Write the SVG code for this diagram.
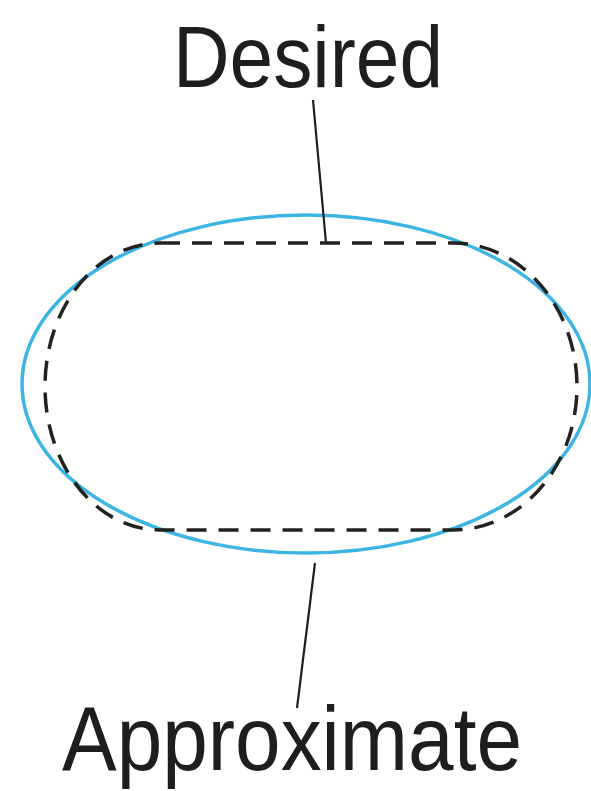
<svg xmlns="http://www.w3.org/2000/svg" width="591" height="791" viewBox="0 0 591 791">
<style>
.lbl{font-family:"Liberation Sans","DejaVu Sans",sans-serif;fill:#1e1e1e;}
.lead{stroke:#1e1e1e;stroke-width:2.2;fill:none;}
</style>
<rect width="591" height="791" fill="#fff"/>
<g id="approximate-shape">
<ellipse cx="306" cy="384" rx="284" ry="169" fill="none" stroke="#3db5e2" stroke-width="3.5"/>
</g>
<g id="desired-shape">
<path d="M160,243 H453 A124,143.5 0 0 1 453,530 H160 A115,143.5 0 0 1 160,243 Z" fill="none" stroke="#222" stroke-width="3.5" stroke-dasharray="20 12"/>
</g>
<g id="connectors">
<line class="lead" x1="313" y1="100" x2="326" y2="243"/>
<line class="lead" x1="315" y1="563" x2="297" y2="708"/>
</g>
<g id="label-desired">
<text class="lbl" x="173" y="87" font-size="88" textLength="270" lengthAdjust="spacingAndGlyphs">Desired</text>
</g>
<g id="label-approximate">
<text class="lbl" x="62" y="770" font-size="90" textLength="460" lengthAdjust="spacingAndGlyphs">Approximate</text>
</g>
</svg>
